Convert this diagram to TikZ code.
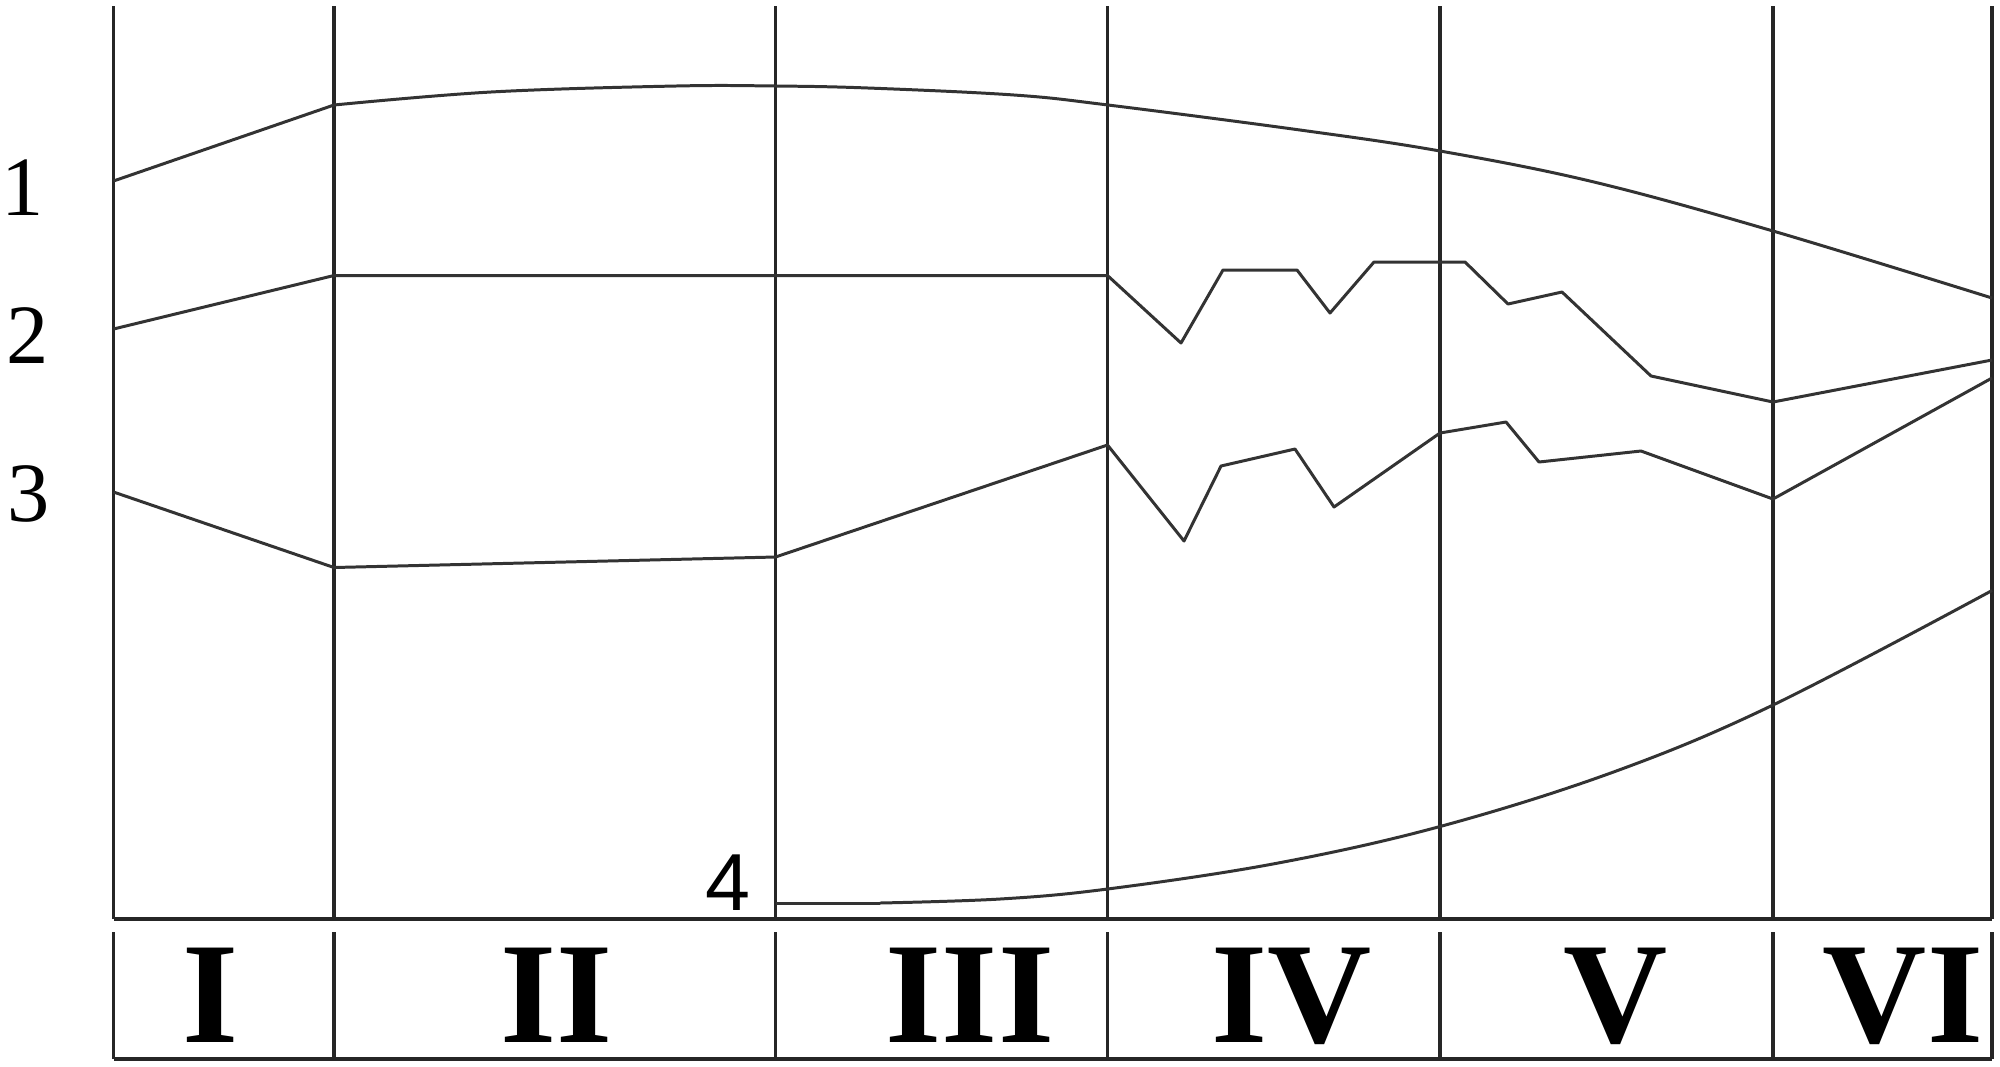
\documentclass[tikz,border=0pt]{standalone}
\usepackage{fontspec}
\setmainfont{Liberation Serif}
\newfontfamily\labsans{Liberation Sans}
\begin{document}
\begin{tikzpicture}[x=0.01cm,y=-0.01cm,
  grid/.style={line width=1pt,black!85},
  curve/.style={line width=0.85pt,black!80,line join=round},
  numlab/.style={inner sep=0pt,anchor=base,font=\fontsize{24pt}{24pt}\selectfont},
  romlab/.style={inner sep=0pt,anchor=base,font=\fontsize{41pt}{41pt}\selectfont\bfseries}]
\useasboundingbox (0,0) rectangle (2000,1066);
% vertical lines
\foreach \xx in {113.5,334,775.5,1107.5,1440,1773,1992}{
  \draw[grid] (\xx,6) -- (\xx,919);
  \draw[grid] (\xx,932) -- (\xx,1059);
}
\draw[grid] (113.5,919) -- (1992,919);
\draw[grid] (113.5,1059) -- (1992,1059);
% curve 1
\draw[curve] (113.5,181) -- (334,105);
\draw[curve] plot[smooth,tension=0.6] coordinates {(334,105) (491,92) (676,86) (775,86) (868,88) (1014,95) (1108,105) (1300,130) (1440,151) (1594,182) (1773,231) (1992,298)};
% curve 2
\draw[curve] (113.5,329) -- (334,275.5) -- (1107.5,275.5) -- (1181,343) -- (1223,270) -- (1297,270) -- (1330,313) -- (1374,262) -- (1465,262) -- (1508,304) -- (1562,292) -- (1651,376) -- (1773,402) -- (1992,360);
% curve 3
\draw[curve] (113.5,492) -- (334,567.5) -- (775.5,557) -- (1107.5,445) -- (1184,541) -- (1221,466) -- (1295,449) -- (1334,507) -- (1440,433) -- (1506,422) -- (1539,462) -- (1641,451) -- (1773,499) -- (1992,378);
% curve 4
\draw[curve] (775.5,903) -- (880,903);
\draw[curve] plot[smooth,tension=0.6] coordinates {(880,903) (1000,899) (1107.5,889) (1275.5,863.5) (1440,826.5) (1613.5,772) (1773,705) (1992,590.5)};
% labels
\node[numlab] (n1) at (23,215) {1};
\node[numlab] (n2) at (28,363) {2};
\node[numlab] (n3) at (29,521) {3};
\node[numlab,font=\labsans\fontsize{23pt}{23pt}\selectfont] (n4) at (727.5,910) {4};
\node[romlab] (r1) at (211,1042) {I};
\node[romlab] (r2) at (557,1042) {II};
\node[romlab] (r3) at (970,1042) {III};
\node[romlab] (r4) at (1292,1042) {IV};
\node[romlab] (r5) at (1616,1042) {V};
\node[romlab] (r6) at (1903,1042) {VI};
\end{tikzpicture}
\end{document}
